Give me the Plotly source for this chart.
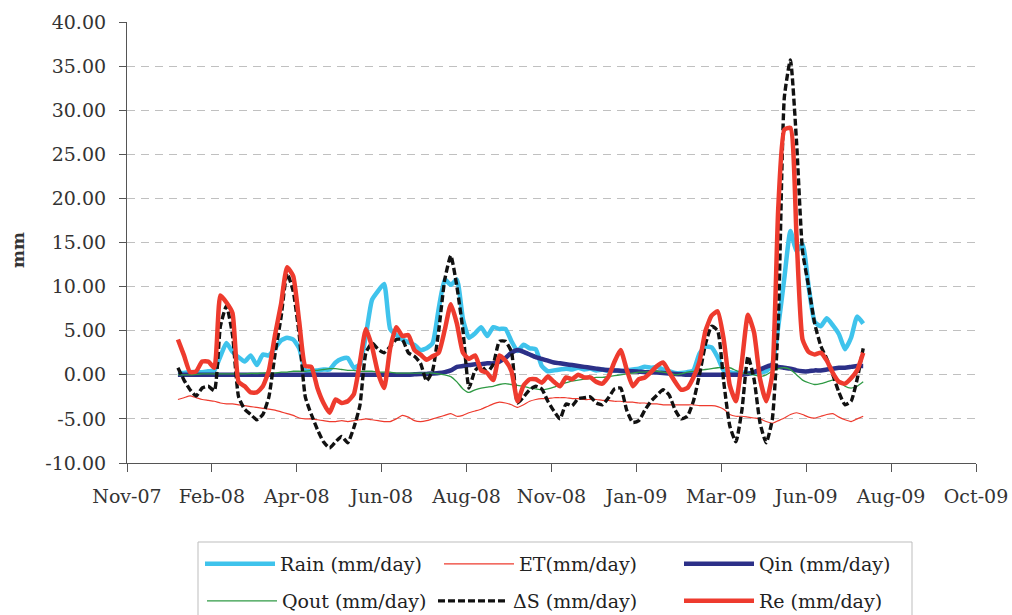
import pandas as pd
import plotly.graph_objects as go

# 5-day sampling of the water-balance terms, Jan 2008 - Jul 2009
dates = pd.date_range("2008-01-05", periods=114, freq="5D")

rain = [0.2, 0.2, 0.3, 0.3, 0.3, 0.4, 0.5, 2.1, 3.6, 2.6,
        2.0, 1.5, 2.2, 1.1, 2.3, 2.2, 3.0, 3.9, 4.2, 4.0,
        3.0, 0.5, 0.4, 0.5, 0.6, 0.6, 1.4, 1.8, 1.9, 0.8,
        1.2, 4.5, 8.5, 9.5, 10.3, 5.2, 4.5, 4.0, 3.7, 3.4,
        2.8, 3.0, 3.6, 7.5, 10.8, 10.2, 10.8, 6.3, 4.2, 4.7,
        5.4, 4.4, 5.4, 5.2, 5.2, 3.8, 2.7, 3.4, 3.0, 2.9,
        1.0, 0.4, 0.5, 0.6, 0.7, 0.6, 0.8, 0.6, 0.7, 0.5,
        0.6, 0.4, 0.5, 0.4, 0.5, 0.6, 0.7, 0.9, 0.8, 0.9,
        0.6, 0.4, 0.2, 0.2, 0.3, 0.5, 2.4, 3.2, 3.1, 2.0,
        0.5, 0.3, 0.2, 0.3, 0.2, 0.2, 0.3, 0.4, 1.2, 5.5,
        11.0, 16.3, 14.0, 14.8, 10.0, 6.0, 5.5, 6.4, 5.6, 4.6,
        2.9, 4.2, 6.6, 5.8]

et = [-2.8, -2.6, -2.4, -2.6, -2.8, -2.9, -3.0, -3.2, -3.3, -3.3,
      -3.4, -3.5, -3.6, -3.7, -3.8, -3.9, -4.0, -4.2, -4.4, -4.6,
      -4.9, -5.0, -5.0, -5.1, -5.2, -5.3, -5.3, -5.2, -5.3, -5.2,
      -5.1, -5.0, -5.1, -5.2, -5.3, -5.3, -5.0, -4.6, -4.8, -5.2,
      -5.3, -5.2, -5.0, -4.8, -4.6, -4.4, -4.7, -4.6, -4.3, -4.1,
      -3.9, -3.6, -3.3, -3.1, -3.2, -3.4, -3.7, -3.4, -3.0, -2.8,
      -2.7, -2.7, -2.6, -2.6, -2.6, -2.7, -2.7, -2.8, -2.8, -2.8,
      -2.9, -2.9, -3.0, -3.0, -3.1, -3.1, -3.2, -3.2, -3.3, -3.3,
      -3.4, -3.4, -3.4, -3.4, -3.4, -3.4, -3.5, -3.5, -3.5, -3.6,
      -3.9, -4.5, -4.7, -4.7, -4.8, -4.9, -5.0, -5.3, -5.5, -5.2,
      -4.9, -4.5, -4.3, -4.5, -4.8, -4.9, -4.7, -4.5, -4.4, -4.8,
      -5.1, -5.3, -5.0, -4.7]

q_in = [0.0, 0.0, 0.0, 0.0, 0.0, 0.0, 0.0, 0.0, 0.0, 0.0,
        0.0, 0.0, 0.0, 0.0, 0.0, 0.0, 0.0, 0.0, 0.0, 0.0,
        0.0, 0.0, 0.0, 0.0, 0.0, 0.0, 0.0, 0.0, 0.0, 0.0,
        0.0, 0.0, 0.0, 0.0, 0.0, 0.0, 0.0, 0.0, 0.0, 0.05,
        0.1, 0.1, 0.15, 0.2, 0.3, 0.5, 0.9, 1.0, 1.1, 1.2,
        1.2, 1.3, 1.3, 1.5, 1.9, 2.5, 2.8, 2.6, 2.3, 2.0,
        1.8, 1.6, 1.4, 1.3, 1.2, 1.1, 1.0, 0.9, 0.8, 0.7,
        0.6, 0.55, 0.5, 0.45, 0.4, 0.4, 0.35, 0.3, 0.3, 0.25,
        0.2, 0.15, 0.1, 0.05, 0.0, 0.0, 0.0, 0.0, 0.0, 0.0,
        0.0, 0.0, 0.0, 0.0, 0.1, 0.3, 0.6, 0.9, 1.1, 0.9,
        0.8, 0.7, 0.5, 0.4, 0.4, 0.5, 0.5, 0.6, 0.7, 0.8,
        0.8, 0.9, 1.0, 1.0]

q_out = [0.0, 0.0, 0.0, 0.05, 0.1, 0.1, 0.1, 0.1, 0.1, 0.1,
         0.1, 0.1, 0.15, 0.15, 0.2, 0.2, 0.2, 0.3, 0.3, 0.4,
         0.4, 0.4, 0.5, 0.5, 0.6, 0.7, 0.7, 0.6, 0.5, 0.5,
         0.4, 0.4, 0.4, 0.3, 0.3, 0.3, 0.2, 0.2, 0.2, 0.2,
         0.2, 0.2, 0.2, 0.1, 0.0, -0.2, -0.8, -1.6, -2.0, -1.7,
         -1.5, -1.4, -1.3, -1.1, -1.0, -1.1, -1.2, -1.3, -1.5, -1.6,
         -1.7, -1.6, -1.4, -1.1, -0.9, -0.7, -0.6, -0.5, -0.4, -0.3,
         -0.3, -0.2, -0.1, 0.0, 0.1, 0.2, 0.3, 0.3, 0.4, 0.4,
         0.3, 0.2, 0.0, 0.1, 0.3, 0.4, 0.5, 0.6, 0.7, 0.8,
         0.8, 0.8, 0.5, 0.2, 0.1, 0.0, -0.2, 0.0, 0.4, 0.7,
         0.8, 0.6, 0.0, -0.6, -0.9, -1.1, -1.0, -0.8, -0.6, -0.7,
         -1.3, -1.5, -1.3, -0.8]

d_storage = [0.8, -0.6, -1.7, -2.4, -1.5, -1.3, -1.8, 5.5, 7.8, 4.5,
             -2.5, -3.9, -4.5, -5.1, -4.5, -2.5, 2.3, 6.5, 11.5, 9.5,
             4.5, -2.5, -4.5, -6.2, -7.6, -8.3, -7.6, -7.0, -7.7, -6.0,
             -3.5, 2.5, 3.6, 2.9, 2.5, 3.2, 4.0, 4.0, 2.5, 2.1,
             1.3, -0.7, 0.5, 5.0, 10.8, 13.5, 10.0, 5.0, -1.5, 0.5,
             1.0, 0.3, 1.2, 3.8, 3.8, 2.6, -3.2, -2.5, -1.7, -1.3,
             -1.6, -3.0, -4.1, -5.0, -3.3, -3.5, -2.7, -2.6, -2.5, -3.2,
             -3.4, -2.6, -1.6, -1.5, -4.0, -5.4, -5.2, -4.0, -3.0, -2.3,
             -1.7, -2.3, -4.0, -5.0, -4.7, -3.0, 0.0, 3.5, 5.5, 5.0,
             -0.8, -5.8, -7.6, -4.0, 2.1, -0.5, -5.5, -7.7, -5.1, 6.0,
             31.5, 35.7, 26.5, 14.0, 10.0, 5.8, 3.3, 1.8, 0.0, -2.0,
             -3.4, -3.0, -0.5, 3.0]

recharge = [4.0, 2.2, 0.3, 0.4, 1.5, 1.5, 0.8, 9.0, 8.2, 7.0,
            -0.8, -1.3, -2.0, -2.0, -1.3, 0.5, 4.5, 8.0, 12.2, 11.2,
            6.0, 1.0, 0.9, -1.5, -3.2, -4.3, -2.8, -3.2, -3.0, -2.2,
            1.4, 5.2, 3.2, 0.2, -1.5, 3.0, 5.4, 4.4, 4.5, 2.8,
            2.3, 1.7, 2.1, 2.5, 5.1, 8.0, 5.8, 2.5, 1.8, 2.2,
            0.5, 0.2, -0.6, 2.2, 1.6, 0.4, -3.0, -1.2, -0.5, -0.5,
            -0.9, -0.2, -0.8, -1.3, -0.3, -0.5, 0.0, -0.3, -0.3, -0.8,
            -1.0, -0.2, 1.5, 2.8, 0.6, -1.3, -0.5, -0.3, 0.3, 1.0,
            1.4, 0.3, -0.8, -1.7, -1.5, -0.3, 1.5, 5.0, 6.7, 7.2,
            4.0, -1.2, -3.0, 1.5, 6.8, 4.8, -0.5, -3.0, 0.0, 19.0,
            27.8, 28.0, 15.8, 4.0, 2.6, 2.3, 2.5, 1.6, 0.2, -0.8,
            -1.0, -0.4, 0.5, 2.5]

# x-axis ticks every 70 days from 24 Nov 2007
x_start = "2007-11-24"
x_end = "2009-10-24"
tick_step_days = 70

# y-axis ticks, written with a plain hyphen for negatives
y_ticks = [-10, -5, 0, 5, 10, 15, 20, 25, 30, 35, 40]
y_tick_text = [f"{v:.2f}" for v in y_ticks]

FONT = "DejaVu Serif, Liberation Serif, serif"
FS = 19

L, R, T, B = 127, 36, 22, 152
W, H = 1012, 615
pw, ph = W - L - R, H - T - B


def px_x(px):
    return (px - L) / pw


def px_y(py):
    return (H - B - py) / ph


# name, values, line style, legend slot (left px of key, centre row px)
series = [
    ("Rain (mm/day)", rain, dict(color="#3fc3ec", width=4.5), (200, 564)),
    ("ET(mm/day)", et, dict(color="#ee3b2e", width=1.2), (439, 564)),
    ("Qin (mm/day)", q_in, dict(color="#2c3088", width=4.5), (679, 564)),
    ("Qout (mm/day)", q_out, dict(color="#2f9a44", width=1.3), (202, 601)),
    ("ΔS (mm/day)", d_storage, dict(color="#111111", width=3.4, dash="7px,3px"), (433, 601)),
    ("Re (mm/day)", recharge, dict(color="#ee3b2e", width=4.5), (679, 601)),
]

fig = go.Figure()
legend_layout = {}
for k, (name, vals, line, (lx, ly)) in enumerate(series):
    key = "legend" if k == 0 else f"legend{k + 1}"
    fig.add_trace(go.Scatter(
        x=dates, y=vals, name=name, mode="lines",
        line=dict(shape="spline", smoothing=0.5, **line),
        legend=key,
    ))
    legend_layout[key] = dict(
        x=px_x(lx), y=px_y(ly), xanchor="left", yanchor="middle",
        orientation="h", bgcolor="rgba(0,0,0,0)", borderwidth=0,
        itemwidth=70,
        font=dict(family=FONT, size=FS, color="#222222"),
    )

fig.update_layout(
    width=W, height=H,
    margin=dict(l=L, r=R, t=T, b=B, autoexpand=False),
    paper_bgcolor="white", plot_bgcolor="white",
    font=dict(family=FONT, size=FS, color="#333333"),
    showlegend=True,
    xaxis=dict(
        type="date", range=[x_start, x_end],
        tick0=x_start, dtick=tick_step_days * 86400000, tickformat="%b-%y",
        showgrid=False, zeroline=False,
        showline=True, linecolor="#555555", linewidth=1.2,
        ticks="outside", ticklen=8, tickcolor="#555555",
        tickfont=dict(family=FONT, size=FS, color="#333333"),
        ticklabelstandoff=8,
    ),
    yaxis=dict(
        range=[-10, 40], tickmode="array", tickvals=y_ticks, ticktext=y_tick_text,
        showgrid=True, gridcolor="#c0c0c0", griddash="8px,6px", gridwidth=1,
        zeroline=False,
        showline=True, linecolor="#555555", linewidth=1.2,
        ticks="outside", ticklen=7, tickcolor="#555555",
        tickfont=dict(family=FONT, size=FS, color="#333333"),
        ticklabelstandoff=9,
    ),
    annotations=[dict(
        text="<b>mm</b>", textangle=-90, showarrow=False,
        xref="paper", yref="paper", x=px_x(18), y=px_y(250),
        xanchor="center", yanchor="middle",
        font=dict(family=FONT, size=17, color="#333333"),
    )],
    shapes=[dict(
        type="rect", xref="paper", yref="paper",
        x0=px_x(198), x1=px_x(912), y0=px_y(542), y1=px_y(640),
        line=dict(color="#bdbdbd", width=1), fillcolor="rgba(0,0,0,0)",
        layer="below",
    )],
    **legend_layout,
)

fig.write_html("out.html")
